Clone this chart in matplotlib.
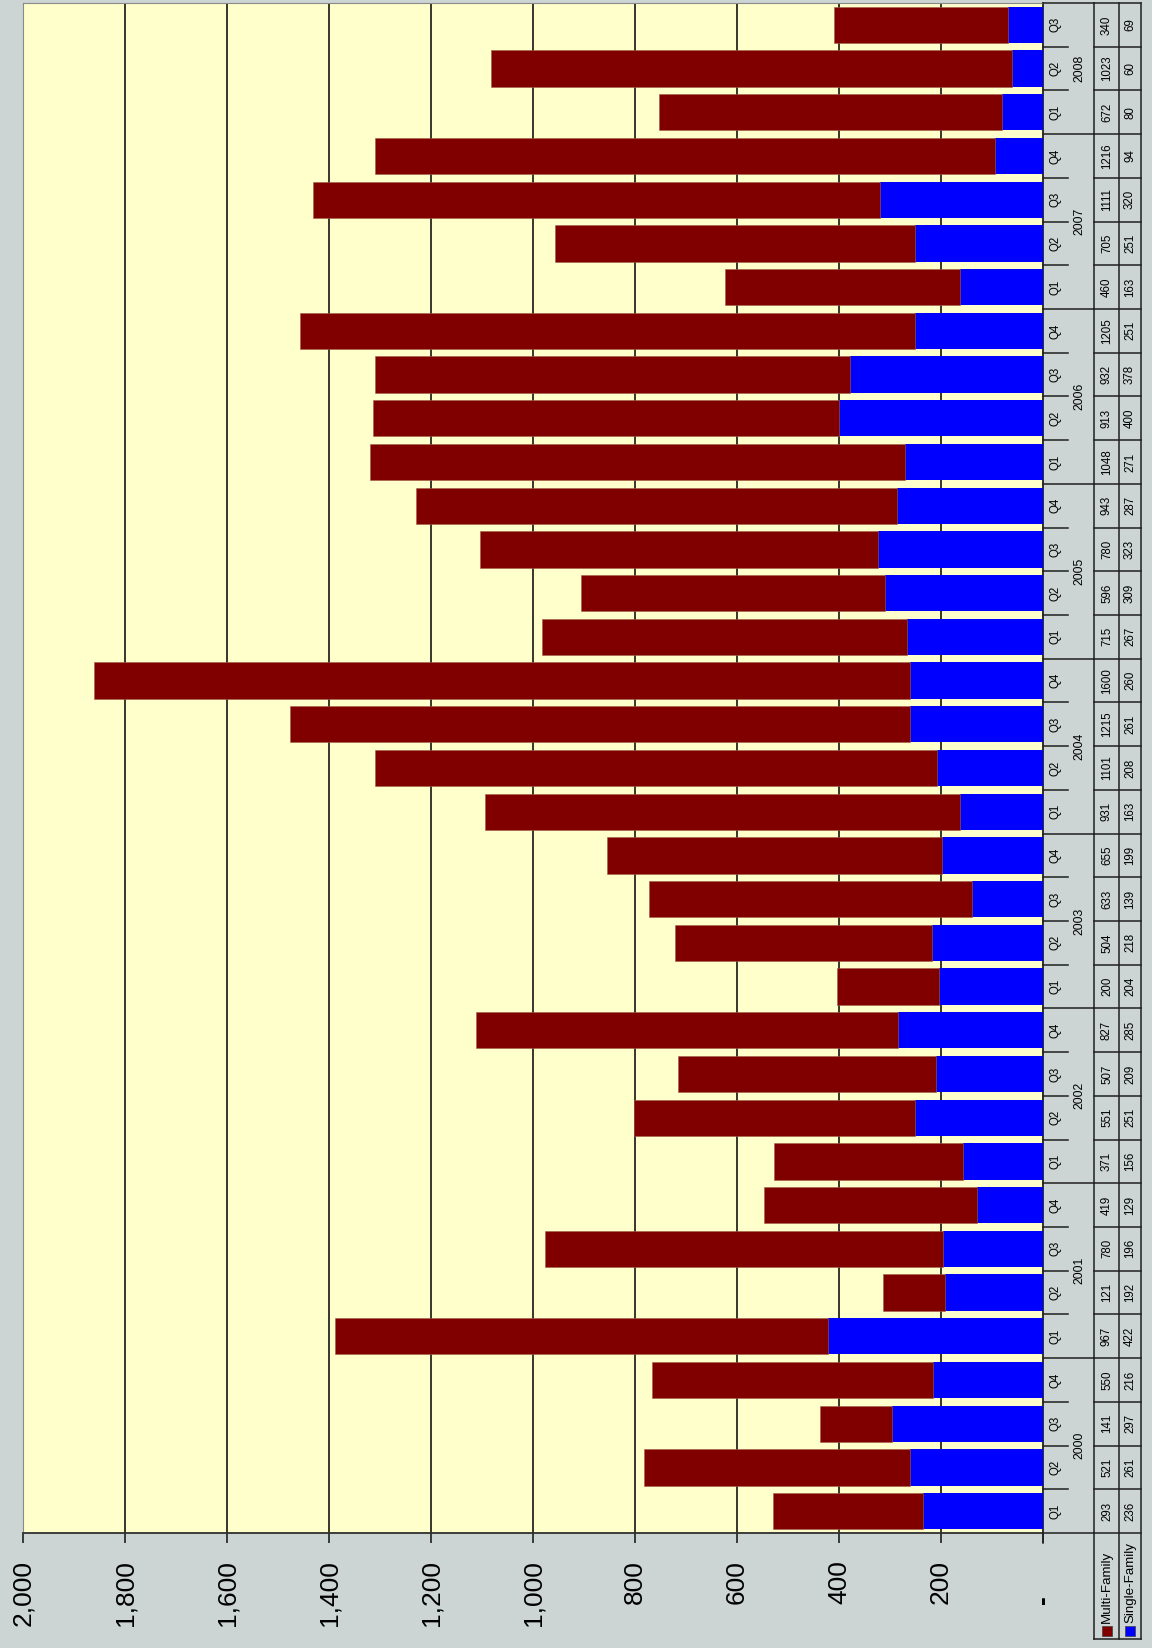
import matplotlib
matplotlib.use('Agg')
import matplotlib.pyplot as plt
import matplotlib.transforms as mtransforms
from matplotlib.patches import Rectangle
from matplotlib.lines import Line2D
import numpy as np

plt.rcParams['font.family'] = ['Liberation Sans', 'DejaVu Sans']

# Data (quarterly units, 2000 Q1 .. 2008 Q3)
years = ['2000', '2001', '2002', '2003', '2004', '2005', '2006', '2007', '2008']
quarters_per_year = [4, 4, 4, 4, 4, 4, 4, 4, 3]
quarter_labels = ['Q1', 'Q2', 'Q3', 'Q4']
multi_family = [293, 521, 141, 550, 967, 121, 780, 419, 371, 551, 507, 827,
                200, 504, 633, 655, 931, 1101, 1215, 1600, 715, 596, 780, 943,
                1048, 913, 932, 1205, 460, 705, 1111, 1216, 672, 1023, 340]
single_family = [236, 261, 297, 216, 422, 192, 196, 129, 156, 251, 209, 285,
                 204, 218, 139, 199, 163, 208, 261, 260, 267, 309, 323, 287,
                 271, 400, 378, 251, 163, 251, 320, 94, 80, 60, 69]
value_ticks = [0, 200, 400, 600, 800, 1000, 1200, 1400, 1600, 1800, 2000]
value_labels = ['', '200', '400', '600', '800', '1,000', '1,200', '1,400',
                '1,600', '1,800', '2,000']

MF_COLOR = '#800000'
SF_COLOR = '#0000ff'
PLOT_BG = '#ffffcc'
FIG_BG = '#ccd4d4'

W, H = 1152, 1648


def fx(px):
    return px / W


def fy(py):
    return 1 - py / H


fig = plt.figure(figsize=(W / 100, H / 100), dpi=100, facecolor=FIG_BG)
ax = fig.add_axes([fx(23), fy(1533), fx(1043) - fx(23), fy(3) - fy(1533)])
ax.set_facecolor(PLOT_BG)

n = len(multi_family)
pos = np.arange(n)
ax.barh(pos, single_family, height=0.83, color=SF_COLOR, zorder=3)
ax.barh(pos, multi_family, left=single_family, height=0.83, color=MF_COLOR,
        edgecolor='#a0604a', linewidth=0.4, zorder=3)

ax.set_xlim(2000, 0)
ax.set_ylim(-0.5, n - 0.5)
ax.set_xticks(value_ticks)
ax.set_xticklabels(value_labels, rotation=90, va='top', fontsize=19)
ax.tick_params(axis='x', length=7.5, width=1.2, pad=12, color='#202020')
ax.set_yticks([])
for v in value_ticks[1:-1]:
    ax.axvline(v, color='black', lw=1.1, zorder=1)
for s in ['top', 'left']:
    ax.spines[s].set_color('#8a8a8a')
ax.spines['bottom'].set_color('#303030')
ax.spines['bottom'].set_linewidth(1.3)
ax.spines['right'].set_color('#202020')
ax.spines['right'].set_linewidth(1.3)

# zero label in accounting style
fig.text(fx(1043), fy(1600), '-', rotation=90, ha='center', va='center',
         fontsize=19, fontweight='bold')

# category axis, data table and legend on the right
trans = mtransforms.blended_transform_factory(fig.transFigure, ax.transData)
line_kw = dict(color='#202020', lw=1.1)
small = 8.3

idx = 0
for year, nq in zip(years, quarters_per_year):
    for q in range(nq):
        i = idx + q
        ax.text(fx(1055), i, quarter_labels[q], transform=trans, rotation=90,
                ha='center', va='center', fontsize=small)
        ax.text(fx(1107), i, str(multi_family[i]), transform=trans, rotation=90,
                ha='center', va='center', fontsize=small)
        ax.text(fx(1130), i, str(single_family[i]), transform=trans, rotation=90,
                ha='center', va='center', fontsize=small)
    center = idx + (nq - 1) / 2
    ax.text(fx(1079), center, year, transform=trans, rotation=90,
            ha='center', va='center', fontsize=8.8)
    idx += nq

# separator lines
for b in np.arange(n + 1) - 0.5:
    fig.add_artist(Line2D([fx(1094), fx(1141)], [b, b], transform=trans, **line_kw))
ends = np.cumsum([0] + quarters_per_year) - 0.5
for b in ends:
    fig.add_artist(Line2D([fx(1043), fx(1094)], [b, b], transform=trans, **line_kw))
idx = 0
for nq in quarters_per_year:
    for q in range(1, nq):
        b = idx + q - 0.5
        fig.add_artist(Line2D([fx(1043), fx(1068)], [b, b], transform=trans, **line_kw))
    idx += nq

for xp in [1094, 1119, 1141]:
    fig.add_artist(Line2D([fx(xp), fx(xp)], [fy(3), fy(1639)], transform=fig.transFigure, **line_kw))
fig.add_artist(Line2D([fx(1094), fx(1141)], [fy(1639), fy(1639)], transform=fig.transFigure, **line_kw))
fig.add_artist(Line2D([fx(1043), fx(1043)], [fy(1533), fy(1543)], transform=fig.transFigure, **line_kw))

# legend keys inside the table
for xc, label, col in [(1107, 'Multi-Family', MF_COLOR), (1130, 'Single-Family', SF_COLOR)]:
    fig.add_artist(Rectangle((fx(xc - 5), fy(1636)), fx(10), fy(0) - fy(10),
                             transform=fig.transFigure, facecolor=col, edgecolor='#404040', lw=0.5))
    fig.text(fx(xc), fy(1623), label, rotation=90, ha='center', va='bottom', fontsize=9.6)

fig.savefig('out.png', dpi=100, facecolor=FIG_BG)
